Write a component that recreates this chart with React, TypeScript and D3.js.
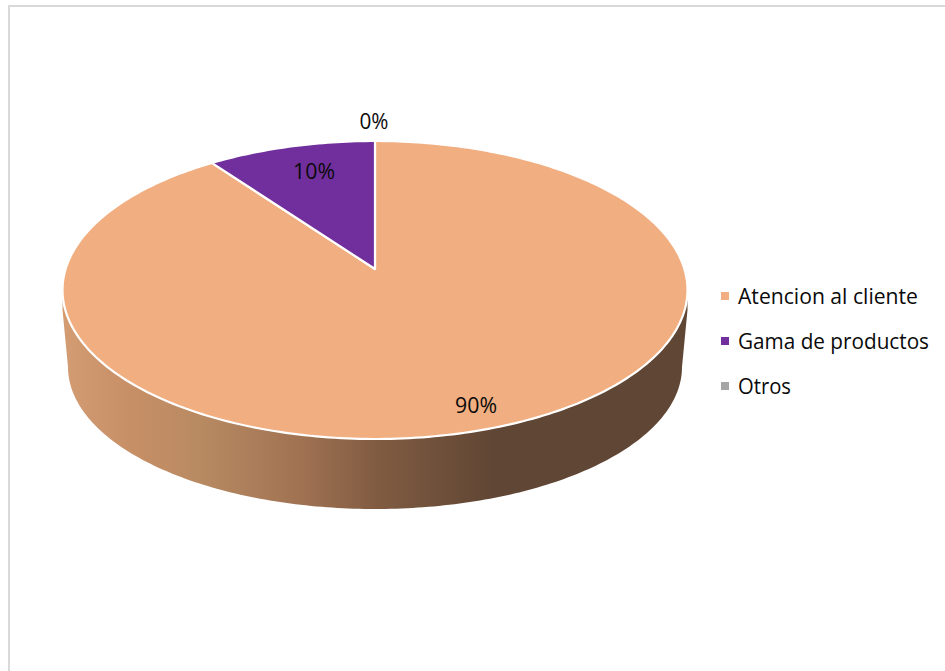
import React from "react";
import * as d3 from "d3";

// Survey shares per category
const categories = ["Atencion al cliente", "Gama de productos", "Otros"];
const shares = [90, 10, 0];
const shareLabels = ["90%", "10%", "0%"];
const sliceColors = ["#F1AE80", "#702F9C", "#A5A5A5"];

const W = 945;
const H = 671;
const FONT = "'Open Sans', 'Noto Sans', sans-serif";

// Top face of the tilted disc
const top = { cx: 375, cy: 290, rx: 312.5, ry: 149 };
// Lower rim of the disc, slightly smaller because it lies further from the viewer
const rim = { cx: 375, cy: 367, rx: 307, ry: 142 };
// Perspective shift of the disc centre along the view axis
const tilt = -0.141;
// Height below the widest point of the face where the side wall begins
const wallDrop = 20;

// Projects an angle on the flat disc (0 = up, clockwise) to the tilted face
function project(angle: number, r = 1): [number, number] {
  const u = r * Math.sin(angle);
  const v = -r * Math.cos(angle);
  const d = 1 + tilt * v;
  const px = (u * Math.sqrt(1 - tilt * tilt)) / d;
  const py = (v + tilt) / d;
  return [top.cx + top.rx * px, top.cy + top.ry * py];
}

const pieLayout = d3
  .pie<number>()
  .sort(null)
  .startAngle(0)
  .endAngle(2 * Math.PI);

const lineGen = d3.line();

function slicePath(a0: number, a1: number): string {
  const n = Math.max(2, Math.ceil(((a1 - a0) / (2 * Math.PI)) * 360));
  const pts: [number, number][] = [project(0, 0)];
  d3.range(n + 1).forEach((i) => pts.push(project(a0 + ((a1 - a0) * i) / n)));
  return lineGen(pts) + "Z";
}

// Side wall: the front half of the lower rim joined up to the top face
function sidePath(): string {
  const n = 180;
  const pts: [number, number][] = [
    [top.cx + top.rx, top.cy],
    [top.cx + top.rx, top.cy + wallDrop],
  ];
  d3.range(n + 1).forEach((i) => {
    const t = (Math.PI * i) / n;
    pts.push([rim.cx + rim.rx * Math.cos(t), rim.cy + rim.ry * Math.sin(t)]);
  });
  pts.push([top.cx - top.rx, top.cy + wallDrop], [top.cx - top.rx, top.cy]);
  return lineGen(pts) + "Z";
}

const wallStops: [number, string][] = [
  [0, "#D39C73"],
  [0.11, "#C78F66"],
  [0.22, "#B88A62"],
  [0.38, "#A07252"],
  [0.5, "#815C42"],
  [0.69, "#604634"],
  [1, "#604634"],
];

const labelPos: [number, number][] = [
  [476, 406],
  [314, 172],
  [374, 122],
];
const labelWidths = [42, 42, 29];
const legendY = [296, 341, 386];
const legendWidths = [180, 191, 53];

export default function App() {
  const arcs = pieLayout(shares);
  return (
    <svg
      width={W}
      height={H}
      viewBox={`0 0 ${W} ${H}`}
      style={{ position: "absolute", left: 0, top: 0, background: "#fff" }}
    >
      <defs>
        <linearGradient
          id="wall"
          gradientUnits="userSpaceOnUse"
          x1={top.cx - top.rx}
          x2={top.cx + top.rx}
          y1={0}
          y2={0}
        >
          {wallStops.map(([o, c]) => (
            <stop key={o} offset={o} stopColor={c} />
          ))}
        </linearGradient>
      </defs>

      {/* Chart frame: only the top and left edges fall inside the page */}
      <path d={`M9,${H}V6H${W}`} fill="none" stroke="#D9D9D9" strokeWidth={2} />

      {/* Disc */}
      <path d={sidePath()} fill="url(#wall)" />
      {arcs.map((a, i) =>
        a.value > 0 ? (
          <path
            key={categories[i]}
            d={slicePath(a.startAngle, a.endAngle)}
            fill={sliceColors[i]}
            stroke="#fff"
            strokeWidth={2.2}
            strokeLinejoin="round"
          />
        ) : null
      )}

      {/* Data labels */}
      {shareLabels.map((t, i) => (
        <text
          key={t}
          x={labelPos[i][0]}
          y={labelPos[i][1]}
          dy="0.35em"
          textAnchor="middle"
          fontFamily={FONT}
          fontSize={21}
          textLength={labelWidths[i]}
          lengthAdjust="spacingAndGlyphs"
          fill="#0a0a0a"
        >
          {t}
        </text>
      ))}

      {/* Legend */}
      {categories.map((c, i) => (
        <g key={c}>
          <rect x={721} y={legendY[i] - 4} width={8} height={8} fill={sliceColors[i]} />
          <text
            x={738}
            y={legendY[i]}
            dy="0.38em"
            fontFamily={FONT}
            fontSize={21}
            textLength={legendWidths[i]}
            lengthAdjust="spacingAndGlyphs"
            fill="#0a0a0a"
          >
            {c}
          </text>
        </g>
      ))}
    </svg>
  );
}
